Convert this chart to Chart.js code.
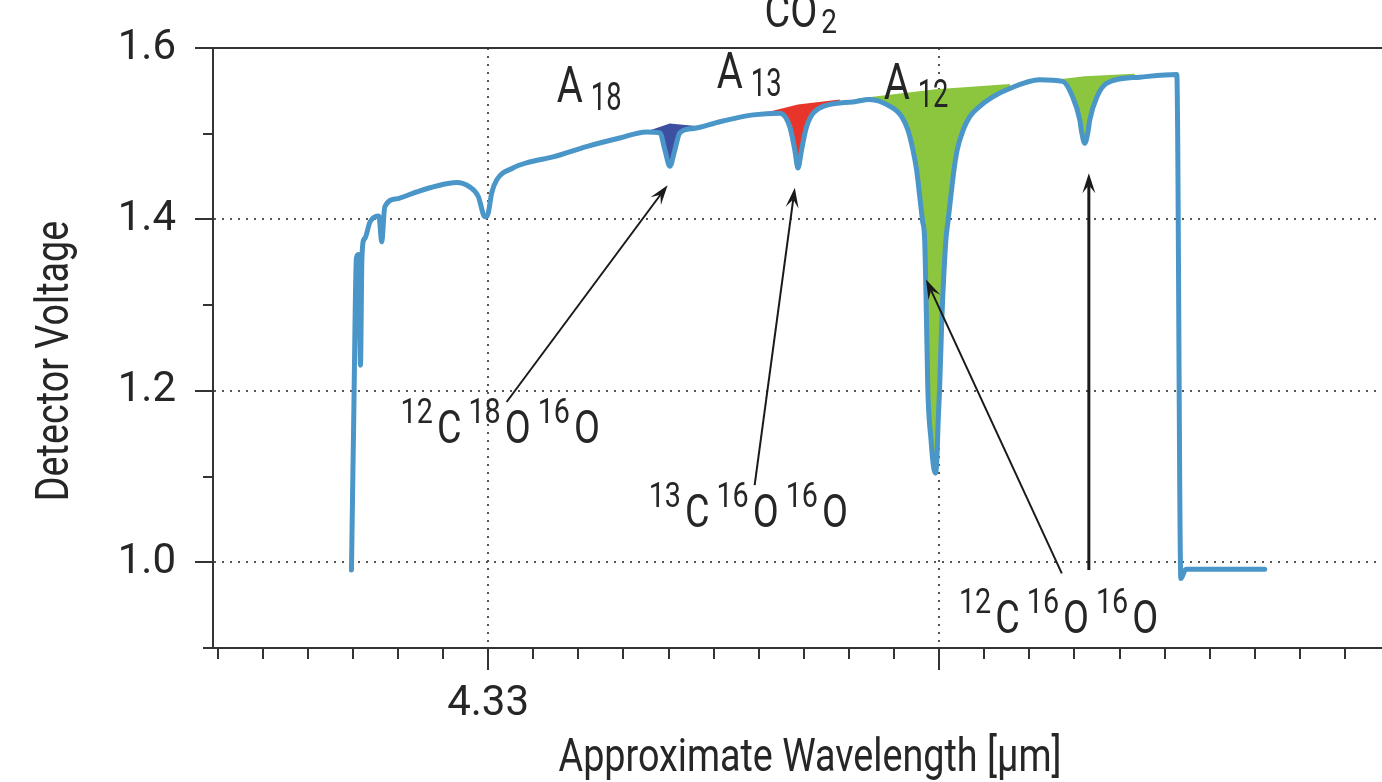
<!DOCTYPE html>
<html>
<head>
<meta charset="utf-8">
<script src="https://cdn.jsdelivr.net/npm/chart.js@4.4.1/dist/chart.umd.min.js"></script>
<style>
  html, body { margin: 0; padding: 0; background: #fff; }
</style>
</head>
<body>
<canvas id="spectrumChart" width="1382" height="782"></canvas>
<script>
// wavelength in nm (4330 nm = 4.33 µm), detector voltage in V
const wavelength = [
  4326.97, 4327.02, 4327.08, 4327.13, 4327.17, 4327.20, 4327.24, 4327.27, 4327.38, 4327.49,
  4327.58, 4327.64, 4327.71, 4327.97, 4328.41, 4328.86, 4329.30, 4329.59, 4329.78, 4329.93,
  4330.00, 4330.08, 4330.19, 4330.55, 4330.92, 4331.44, 4332.18, 4332.92, 4333.51, 4333.81,
  4333.92, 4334.03, 4334.14, 4334.25, 4334.55, 4335.14, 4335.88, 4336.47, 4336.69, 4336.80,
  4336.87, 4336.95, 4337.06, 4337.35, 4338.09, 4338.46, 4338.91, 4339.17, 4339.31, 4339.42,
  4339.50, 4339.57, 4339.63, 4339.68, 4339.72, 4339.75, 4339.82, 4339.88, 4339.92, 4339.95,
  4339.98, 4340.01, 4340.06, 4340.15, 4340.20, 4340.26, 4340.33, 4340.40, 4340.53, 4340.68,
  4340.90, 4341.19, 4341.49, 4342.23, 4342.74, 4342.96, 4343.12, 4343.16, 4343.23, 4343.30,
  4343.34, 4343.50, 4343.72, 4344.45, 4345.27, 4345.36, 4345.47, 4347.22
];
const voltage = [
  0.991, 1.166, 1.355, 1.359, 1.230, 1.350, 1.376, 1.378, 1.397, 1.403,
  1.404, 1.374, 1.415, 1.424, 1.432, 1.439, 1.443, 1.438, 1.427, 1.403,
  1.407, 1.431, 1.446, 1.460, 1.467, 1.473, 1.485, 1.495, 1.502, 1.501,
  1.481, 1.462, 1.481, 1.501, 1.506, 1.514, 1.522, 1.524, 1.508, 1.481,
  1.460, 1.481, 1.508, 1.530, 1.537, 1.540, 1.532, 1.520, 1.504, 1.481,
  1.458, 1.427, 1.399, 1.376, 1.283, 1.201, 1.143, 1.110, 1.104, 1.119,
  1.166, 1.201, 1.283, 1.376, 1.399, 1.427, 1.458, 1.481, 1.504, 1.520,
  1.532, 1.543, 1.551, 1.563, 1.561, 1.543, 1.516, 1.502, 1.489, 1.502,
  1.516, 1.543, 1.559, 1.566, 1.569, 0.981, 0.992, 0.992
];

// baselines that close the shaded absorption areas
const a18Wavelength = [4333.36, 4334.03, 4334.61];
const a18Baseline = [1.500, 1.512, 1.509];
const a13Wavelength = [4336.09, 4336.87, 4337.80];
const a13Baseline = [1.524, 1.534, 1.540];
const a12Wavelength = [4338.20, 4339.93, 4341.57];
const a12Baseline = [1.541, 1.552, 1.558];
const a12bWavelength = [4342.57, 4343.23, 4344.34];
const a12bBaseline = [1.563, 1.567, 1.570];

const xTickLabels = { 4330: '4.33' };
const xMajorTicks = [4330, 4340];

const FONT = "Roboto, 'Liberation Sans', sans-serif";
const INK = '#262626';
const AXIS = '#333333';
const LINE_BLUE = '#4a96c8';
const NARROW = 0.82; // squeeze for the condensed look of the original lettering

const pts = (xs, ys) => xs.map((v, i) => ({ x: v, y: ys[i] }));
const isMajorY = v => Math.round(v * 10) % 2 === 0;

// annotation anchors in data units
const areaLabels = [
  { x: 4331.52, y: 1.537, sub: '18' },
  { x: 4335.07, y: 1.553, sub: '13' },
  { x: 4338.77, y: 1.540, sub: '12' }
];
const isotopeLabels = [
  { x: 4328.06, y: 1.139, parts: [['12', 'sup'], ['C', 'n'], ['18', 'sup'], ['O', 'n'], ['16', 'sup'], ['O', 'n']] },
  { x: 4333.56, y: 1.041, parts: [['13', 'sup'], ['C', 'n'], ['16', 'sup'], ['O', 'n'], ['16', 'sup'], ['O', 'n']] },
  { x: 4340.44, y: 0.917, parts: [['12', 'sup'], ['C', 'n'], ['16', 'sup'], ['O', 'n'], ['16', 'sup'], ['O', 'n']] }
];
const arrows = [
  { from: [4330.41, 1.187], to: [4333.98, 1.440], w: 2 },
  { from: [4335.91, 1.090], to: [4336.80, 1.437], w: 2 },
  { from: [4342.72, 0.987], to: [4339.71, 1.330], w: 2 },
  { from: [4343.32, 0.991], to: [4343.32, 1.454], w: 3 }
];

function narrowText(ctx, text, x, y, size, sx) {
  ctx.save();
  ctx.translate(x, y);
  ctx.scale(sx, 1);
  ctx.font = size + 'px ' + FONT;
  ctx.fillText(text, 0, 0);
  const w = ctx.measureText(text).width * sx;
  ctx.restore();
  return w;
}

function drawArrow(ctx, x0, y0, x1, y1, w) {
  const ang = Math.atan2(y1 - y0, x1 - x0);
  const len = 20, half = 6.5;
  ctx.lineWidth = w;
  ctx.beginPath();
  ctx.moveTo(x0, y0);
  ctx.lineTo(x1 - Math.cos(ang) * len * 0.6, y1 - Math.sin(ang) * len * 0.6);
  ctx.stroke();
  ctx.save();
  ctx.translate(x1, y1);
  ctx.rotate(ang);
  ctx.beginPath();
  ctx.moveTo(0, 0);
  ctx.lineTo(-len, -half);
  ctx.lineTo(-len * 0.6, 0);
  ctx.lineTo(-len, half);
  ctx.closePath();
  ctx.fill();
  ctx.restore();
}

function drawFormula(ctx, parts, x, y) {
  let cx = x;
  parts.forEach(([t, kind]) => {
    if (kind === 'sup') {
      cx += narrowText(ctx, t, cx, y - 20, 35, NARROW) + 4;
    } else {
      cx += narrowText(ctx, t, cx, y, 46, NARROW) + 7;
    }
  });
}

const spectrumDecor = {
  id: 'spectrumDecor',
  afterDraw(chart) {
    const { ctx, chartArea, scales: { x, y } } = chart;
    ctx.save();
    ctx.strokeStyle = AXIS;
    ctx.lineWidth = 2;
    ctx.beginPath();
    // top frame
    ctx.moveTo(chartArea.left, chartArea.top);
    ctx.lineTo(chartArea.right, chartArea.top);
    // long ticks on the labelled wavelengths
    xMajorTicks.forEach(v => {
      const px = Math.round(x.getPixelForValue(v));
      ctx.moveTo(px, chartArea.bottom);
      ctx.lineTo(px, chartArea.bottom + 22);
    });
    // voltage ticks, long where labelled
    y.ticks.forEach(t => {
      const py = Math.round(y.getPixelForValue(t.value));
      ctx.moveTo(chartArea.left - (isMajorY(t.value) ? 18 : 10), py);
      ctx.lineTo(chartArea.left, py);
    });
    ctx.stroke();

    ctx.fillStyle = INK;
    ctx.textBaseline = 'alphabetic';

    // axis titles
    ctx.textAlign = 'center';
    narrowText(ctx, 'Approximate Wavelength [µm]', 810, 771, 46, NARROW);
    ctx.save();
    ctx.translate(68, 361);
    ctx.rotate(-Math.PI / 2);
    narrowText(ctx, 'Detector Voltage', 0, 0, 46, NARROW);
    ctx.restore();

    // title
    ctx.textAlign = 'left';
    const tx = x.getPixelForValue(4336.84) - 32;
    const cw = narrowText(ctx, 'CO', tx, chartArea.top - 21, 48, NARROW);
    narrowText(ctx, '2', tx + cw + 4, chartArea.top - 15, 34, NARROW);

    // A labels
    areaLabels.forEach(l => {
      const px = x.getPixelForValue(l.x), py = y.getPixelForValue(l.y);
      const aw = narrowText(ctx, 'A', px, py, 50, 0.8);
      narrowText(ctx, l.sub, px + aw + 8, py + 8, 38, 0.72);
    });

    // isotopologue labels
    isotopeLabels.forEach(l => {
      drawFormula(ctx, l.parts, x.getPixelForValue(l.x), y.getPixelForValue(l.y));
    });

    // arrows
    ctx.strokeStyle = '#1a1a1a';
    ctx.fillStyle = '#1a1a1a';
    arrows.forEach(a => {
      drawArrow(ctx,
        x.getPixelForValue(a.from[0]), y.getPixelForValue(a.from[1]),
        x.getPixelForValue(a.to[0]), y.getPixelForValue(a.to[1]), a.w);
    });
    ctx.restore();
  }
};

const fillSet = (xs, ys, color) => ({
  data: pts(xs, ys),
  borderWidth: 0,
  pointRadius: 0,
  backgroundColor: color,
  fill: 0,
  order: 1,
  tension: 0
});

new Chart(document.getElementById('spectrumChart'), {
  type: 'line',
  data: {
    datasets: [
      {
        label: 'Detector Voltage',
        data: pts(wavelength, voltage),
        borderColor: LINE_BLUE,
        borderWidth: 5,
        pointRadius: 0,
        fill: false,
        order: 0,
        cubicInterpolationMode: 'monotone',
        borderJoinStyle: 'round',
        borderCapStyle: 'round'
      },
      fillSet(a18Wavelength, a18Baseline, '#3d4fa1'),
      fillSet(a13Wavelength, a13Baseline, '#e8352b'),
      fillSet(a12Wavelength, a12Baseline, '#8cc63f'),
      fillSet(a12bWavelength, a12bBaseline, '#8cc63f')
    ]
  },
  options: {
    responsive: false,
    animation: false,
    layout: { padding: { top: 48, left: 0, right: 0, bottom: 0 } },
    plugins: {
      legend: { display: false },
      tooltip: { enabled: false }
    },
    scales: {
      x: {
        type: 'linear',
        min: 4323.9,
        max: 4349.82,
        afterFit: s => { s.height = 134; },
        ticks: {
          stepSize: 1,
          includeBounds: false,
          autoSkip: false,
          maxRotation: 0,
          padding: 20,
          color: INK,
          font: { family: FONT, size: 42 },
          callback: v => xTickLabels[v] || ''
        },
        grid: {
          color: c => xMajorTicks.includes(c.tick && c.tick.value) ? '#555' : 'rgba(0,0,0,0)',
          lineWidth: 2,
          drawTicks: true,
          tickLength: 11,
          tickColor: AXIS,
          tickWidth: 2
        },
        border: { display: true, color: AXIS, width: 2, dash: [2, 6] }
      },
      y: {
        min: 0.9,
        max: 1.6,
        afterFit: s => { s.width = 213; },
        ticks: {
          stepSize: 0.1,
          autoSkip: false,
          padding: 0,
          color: INK,
          font: { family: FONT, size: 42 },
          callback: v => isMajorY(v) ? v.toFixed(1) : ''
        },
        grid: {
          color: c => {
            const v = c.tick && c.tick.value;
            return (v > 0.95 && v < 1.55 && isMajorY(v)) ? '#555' : 'rgba(0,0,0,0)';
          },
          lineWidth: 2,
          drawTicks: true,
          tickLength: 37,
          tickColor: 'rgba(0,0,0,0)'
        },
        border: { display: true, color: AXIS, width: 2, dash: [2, 6] }
      }
    }
  },
  plugins: [spectrumDecor]
});
</script>
</body>
</html>
